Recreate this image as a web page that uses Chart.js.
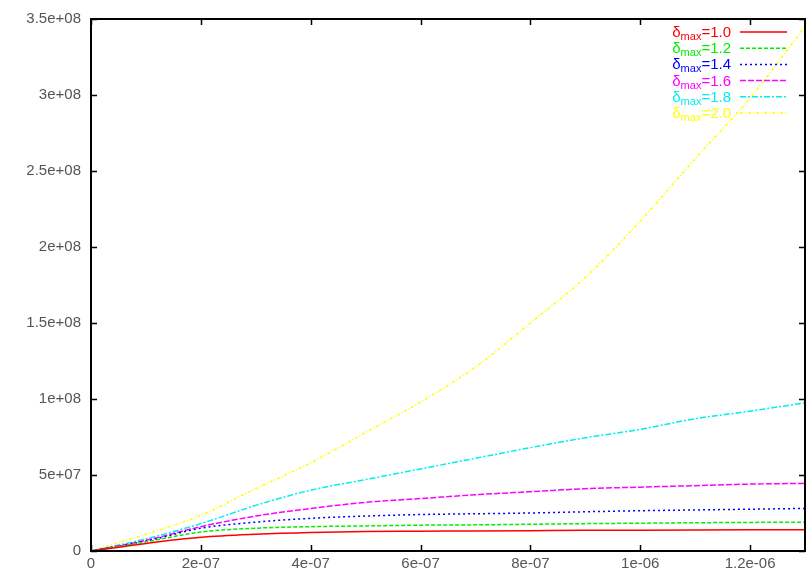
<!DOCTYPE html>
<html>
<head>
<meta charset="utf-8">
<script src="https://cdn.jsdelivr.net/npm/chart.js@4.4.0/dist/chart.umd.min.js"></script>
<style>
  html, body { margin: 0; padding: 0; background: #fff; }
</style>
</head>
<body>
<canvas id="growthChart" width="806" height="575"></canvas>
<script>
// time axis (s)
const times = [0, 1e-7, 2e-7, 3e-7, 4e-7, 5e-7, 6e-7, 7e-7, 8e-7, 9e-7, 1e-6, 1.1e-6, 1.2e-6, 1.3e-6];

// one curve per delta_max
const seriesLabels = ['1.0', '1.2', '1.4', '1.6', '1.8', '2.0'];
const dMax10 = [0, 0.5e7, 0.9e7, 1.1e7, 1.22e7, 1.28e7, 1.3e7, 1.32e7, 1.34e7, 1.36e7, 1.37e7, 1.38e7, 1.39e7, 1.4e7];
const dMax12 = [0, 0.6e7, 1.25e7, 1.5e7, 1.6e7, 1.65e7, 1.7e7, 1.72e7, 1.76e7, 1.8e7, 1.83e7, 1.86e7, 1.88e7, 1.9e7];
const dMax14 = [0, 0.65e7, 1.5e7, 1.9e7, 2.15e7, 2.3e7, 2.4e7, 2.45e7, 2.5e7, 2.58e7, 2.65e7, 2.7e7, 2.75e7, 2.8e7];
const dMax16 = [0, 0.7e7, 1.6e7, 2.3e7, 2.8e7, 3.2e7, 3.45e7, 3.7e7, 3.9e7, 4.1e7, 4.2e7, 4.3e7, 4.4e7, 4.45e7];
const dMax18 = [0, 0.8e7, 1.8e7, 3.0e7, 4.0e7, 4.7e7, 5.4e7, 6.1e7, 6.8e7, 7.45e7, 8.0e7, 8.7e7, 9.2e7, 9.75e7];
const dMax20 = [0, 1.1e7, 2.35e7, 4.1e7, 5.8e7, 7.8e7, 9.8e7, 1.21e8, 1.5e8, 1.8e8, 2.17e8, 2.58e8, 2.98e8, 3.45e8];

const xTickValues = [0, 2e-7, 4e-7, 6e-7, 8e-7, 1e-6, 1.2e-6];
const xTickLabels = ['0', '2e-07', '4e-07', '6e-07', '8e-07', '1e-06', '1.2e-06'];
const yTickValues = [0, 5e7, 1e8, 1.5e8, 2e8, 2.5e8, 3e8, 3.5e8];
const yTickLabels = ['0', '5e+07', '1e+08', '1.5e+08', '2e+08', '2.5e+08', '3e+08', '3.5e+08'];

const allSeries = [dMax10, dMax12, dMax14, dMax16, dMax18, dMax20];
const colors = ['#ff0000', '#00ee00', '#0000ff', '#ff00ff', '#00eeee', '#ffff00'];
const dashes = [[], [4, 2], [2, 3], [6, 2], [6, 2, 2, 2], [3, 2, 1, 2]];

const datasets = allSeries.map((vals, i) => ({
  label: seriesLabels[i],
  data: vals.map((v, k) => ({ x: times[k], y: v })),
  borderColor: colors[i],
  borderWidth: 1.5,
  borderDash: dashes[i],
  pointRadius: 0,
  fill: false,
  cubicInterpolationMode: 'monotone'
}));

const tickFont = { family: 'Liberation Sans, Arial, sans-serif', size: 15 };

// box, inward ticks on all four sides, and the delta_max key
const framePlugin = {
  id: 'frame',
  afterDraw(chart) {
    const ctx = chart.ctx;
    const a = chart.chartArea;
    const xs = chart.scales.x, ys = chart.scales.y;
    ctx.save();
    ctx.strokeStyle = '#000';
    ctx.lineWidth = 1.5;
    ctx.beginPath();
    xTickValues.forEach(v => {
      const px = Math.round(xs.getPixelForValue(v)) + 0.5;
      ctx.moveTo(px, a.bottom); ctx.lineTo(px, a.bottom - 6);
      ctx.moveTo(px, a.top); ctx.lineTo(px, a.top + 6);
    });
    yTickValues.forEach(v => {
      const py = Math.round(ys.getPixelForValue(v)) + 0.5;
      ctx.moveTo(a.left, py); ctx.lineTo(a.left + 6, py);
      ctx.moveTo(a.right, py); ctx.lineTo(a.right - 6, py);
    });
    ctx.stroke();
    ctx.lineWidth = 2;
    ctx.strokeRect(a.left, a.top, a.right - a.left, a.bottom - a.top);

    // key
    const rightText = 731, lineX0 = 740, lineX1 = 787;
    chart.data.datasets.forEach((ds, i) => {
      const y = 37 + i * 16.2;
      ctx.font = '15px Liberation Sans, Arial, sans-serif';
      const wD = ctx.measureText('\u03b4').width;
      const rest = '=' + ds.label;
      const wR = ctx.measureText(rest).width;
      ctx.font = '11px Liberation Sans, Arial, sans-serif';
      const wS = ctx.measureText('max').width;
      let x = rightText - (wD + wS + wR);
      ctx.fillStyle = ds.borderColor;
      ctx.textBaseline = 'alphabetic';
      ctx.font = '15px Liberation Sans, Arial, sans-serif';
      ctx.fillText('\u03b4', x, y);
      x += wD;
      ctx.font = '11px Liberation Sans, Arial, sans-serif';
      ctx.fillText('max', x, y + 3);
      x += wS;
      ctx.font = '15px Liberation Sans, Arial, sans-serif';
      ctx.fillText(rest, x, y);

      ctx.strokeStyle = ds.borderColor;
      ctx.lineWidth = 1.5;
      ctx.setLineDash(ds.borderDash);
      ctx.beginPath();
      ctx.moveTo(lineX0, y - 5);
      ctx.lineTo(lineX1, y - 5);
      ctx.stroke();
      ctx.setLineDash([]);
    });
    ctx.restore();
  }
};

new Chart(document.getElementById('growthChart').getContext('2d'), {
  type: 'line',
  data: { datasets },
  options: {
    responsive: false,
    animation: false,
    devicePixelRatio: 1,
    layout: { padding: { top: 16, right: 1, left: 0, bottom: 0 } },
    plugins: { legend: { display: false }, tooltip: { enabled: false } },
    scales: {
      x: {
        type: 'linear',
        min: 0,
        max: 1.3e-6,
        grid: { display: false, drawTicks: false },
        border: { display: false },
        afterBuildTicks: s => { s.ticks = xTickValues.map(v => ({ value: v })); },
        afterFit: s => { s.height = 24; },
        ticks: {
          autoSkip: false,
          maxRotation: 0,
          padding: 4,
          color: '#555',
          font: tickFont,
          callback: (v, idx) => xTickLabels[idx]
        }
      },
      y: {
        min: 0,
        max: 3.5e8,
        grid: { display: false, drawTicks: false },
        border: { display: false },
        afterBuildTicks: s => { s.ticks = yTickValues.map(v => ({ value: v })); },
        afterFit: s => { s.width = 91; },
        ticks: {
          autoSkip: false,
          padding: 10,
          color: '#555',
          font: tickFont,
          callback: (v, idx) => yTickLabels[idx]
        }
      }
    }
  },
  plugins: [framePlugin]
});
</script>
</body>
</html>
